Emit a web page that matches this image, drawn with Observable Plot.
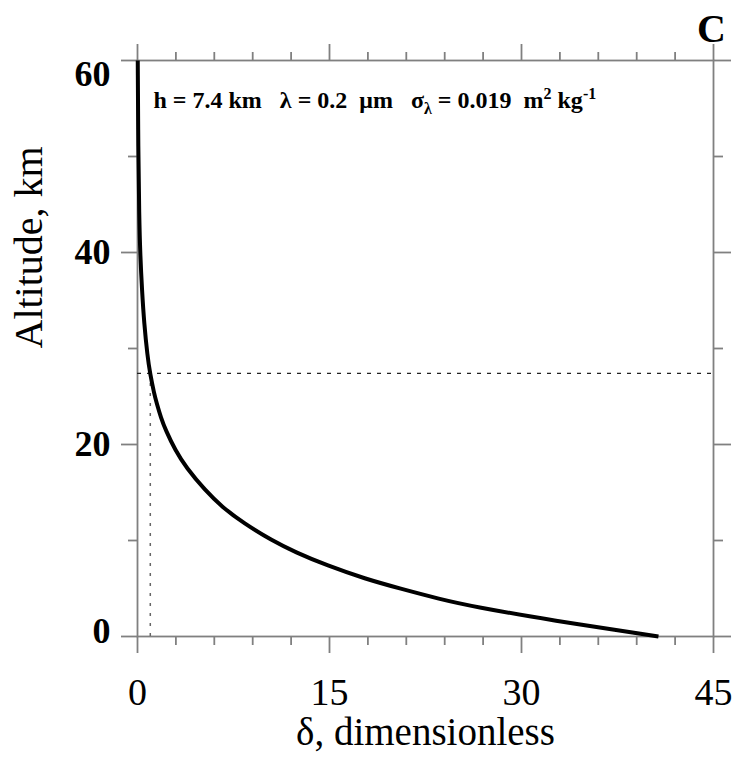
<!DOCTYPE html>
<html>
<head>
<meta charset="utf-8">
<script src="https://cdn.jsdelivr.net/npm/d3@7"></script>
<script src="https://cdn.jsdelivr.net/npm/@observablehq/plot@0.6"></script>
<style>
  html, body { margin: 0; padding: 0; background: #fff; }
  #chart svg { display: block; }
</style>
</head>
<body>
<div id="chart"></div>
<script>
// Altitude (km) and optical depth delta (dimensionless)
const altitude = [0, 1.7, 3.1, 3.9, 5.0, 6.0, 7.4, 8.8, 10.0, 11.8, 13.5, 15.2, 17.6, 19.4, 21.5, 22.8, 24.3, 25.3, 27.4, 29.2, 32.6, 36.1, 39.6, 43.8, 50.7, 60];
const delta    = [40.7, 32.3, 26.3, 23.6, 20.5, 17.8, 14.8, 12.3, 10.5, 8.3, 6.6, 5.3, 3.8, 2.95, 2.2, 1.83, 1.5, 1.3, 0.98, 0.78, 0.52, 0.35, 0.22, 0.13, 0.06, 0.02];

// Reference (dotted) lines
const deltaMark = 1;
const altitudeMark = 27.4;

// Ticks
const xMajor = [0, 15, 30, 45];
const xMinor = [3, 6, 9, 12, 18, 21, 24, 27, 33, 36, 39, 42];
const yMajor = [0, 20, 40, 60];
const yMinor = [10, 30, 50];

// Texts
const xLabel = "δ, dimensionless";
const yLabel = "Altitude, km";
const panelLetter = "C";
const annotation = "h = 7.4 km   λ = 0.2  μm   σλ = 0.019  m2 kg-1";

const curve = altitude.map((z, i) => ({z, d: delta[i]}));

const font = "'Liberation Serif', 'Times New Roman', serif";
const axisColor = "#808080";
const axisW = 1.8;
const blank = () => "";
const axisOpts = {tickFormat: blank, label: null, stroke: axisColor, strokeWidth: axisW};

const marks = [
  Plot.frame({stroke: axisColor, strokeWidth: axisW}),
  // bottom
  Plot.axisX({anchor: "bottom", ticks: xMajor, tickSize: 17, ...axisOpts}),
  Plot.axisX({anchor: "bottom", ticks: xMinor, tickSize: 9, ...axisOpts}),
  // top
  Plot.axisX({anchor: "top", ticks: xMajor, tickSize: 17, ...axisOpts}),
  Plot.axisX({anchor: "top", ticks: xMinor, tickSize: 9, ...axisOpts}),
  // left
  Plot.axisY({anchor: "left", ticks: yMajor, tickSize: 16, ...axisOpts}),
  Plot.axisY({anchor: "left", ticks: yMinor, tickSize: 9, ...axisOpts}),
  // right
  Plot.axisY({anchor: "right", ticks: yMajor, tickSize: 17, ...axisOpts}),
  Plot.axisY({anchor: "right", ticks: yMinor, tickSize: 9, ...axisOpts}),
  // tick labels
  Plot.text(xMajor, {x: d => d, frameAnchor: "bottom", lineAnchor: "top", dy: 42, fontSize: 38, fontFamily: font, fill: "#000"}),
  Plot.text(yMajor.filter(v => v > 0 && v < 60), {y: d => d, frameAnchor: "left", textAnchor: "end", dx: -27, fontSize: 36, fontWeight: "bold", fontFamily: font, fill: "#000"}),
  Plot.text(yMajor.filter(v => v === 60), {y: d => d, frameAnchor: "left", textAnchor: "end", dx: -27, dy: 14, fontSize: 36, fontWeight: "bold", fontFamily: font, fill: "#000"}),
  Plot.text(yMajor.filter(v => v === 0), {y: d => d, frameAnchor: "left", textAnchor: "end", dx: -27, dy: -5, fontSize: 36, fontWeight: "bold", fontFamily: font, fill: "#000"}),
  // axis titles
  Plot.text([xLabel], {frameAnchor: "bottom", text: d => d, lineAnchor: "middle", dy: 96, fontSize: 39, fontFamily: font, fill: "#000"}),
  Plot.text([yLabel], {frameAnchor: "left", text: d => d, rotate: -90, lineAnchor: "middle", dx: -108, fontSize: 40, fontFamily: font, fill: "#000"}),
  Plot.text([panelLetter], {frameAnchor: "top-right", text: d => d, textAnchor: "middle", lineAnchor: "middle", dx: -2, dy: -31, fontSize: 40, fontWeight: "bold", fontFamily: font, fill: "#000"}),
  // reference lines
  Plot.ruleX([deltaMark], {y1: 0, y2: altitudeMark, stroke: "#666", strokeWidth: 1.5, strokeDasharray: "3,7"}),
  Plot.ruleY([altitudeMark], {x1: 0, x2: 45, stroke: "#222", strokeWidth: 1.3, strokeDasharray: "4,6"}),
  // curve
  Plot.line(curve, {x: "d", y: "z", curve: "basis", stroke: "#000", strokeWidth: 4, strokeLinecap: "butt"}),
  // annotation
  Plot.text([annotation], {frameAnchor: "top-left", text: d => d, textAnchor: "start", lineAnchor: "middle", dx: 16, dy: 40, fontSize: 24, fontWeight: "bold", fontFamily: font, fill: "#000"})
];

const svg = Plot.plot({
  width: 740,
  height: 760,
  marginLeft: 137,
  marginRight: 27,
  marginTop: 60,
  marginBottom: 124,
  x: {domain: [0, 45], axis: null},
  y: {domain: [0, 60], axis: null},
  style: {background: "#fff", fontFamily: font, overflow: "visible"},
  marks
});

// Rich formatting of the annotation (subscript and superscripts)
svg.querySelectorAll("text").forEach(t => {
  if (t.textContent === annotation) {
    t.textContent = "";
    t.setAttribute("style", "white-space: pre");
    const parts = [
      {s: "h = 7.4 km   λ = 0.2  μm   σ"},
      {s: "λ", size: 16, dy: 6},
      {s: " = 0.019  m", dy: -6},
      {s: "2", size: 16, dy: -9},
      {s: " kg", dy: 9},
      {s: "-1", size: 16, dy: -9}
    ];
    for (const p of parts) {
      const ts = document.createElementNS("http://www.w3.org/2000/svg", "tspan");
      ts.textContent = p.s;
      if (p.size) ts.setAttribute("font-size", p.size);
      if (p.dy) ts.setAttribute("dy", p.dy);
      t.appendChild(ts);
    }
  }
});

document.getElementById("chart").appendChild(svg);
</script>
</body>
</html>
